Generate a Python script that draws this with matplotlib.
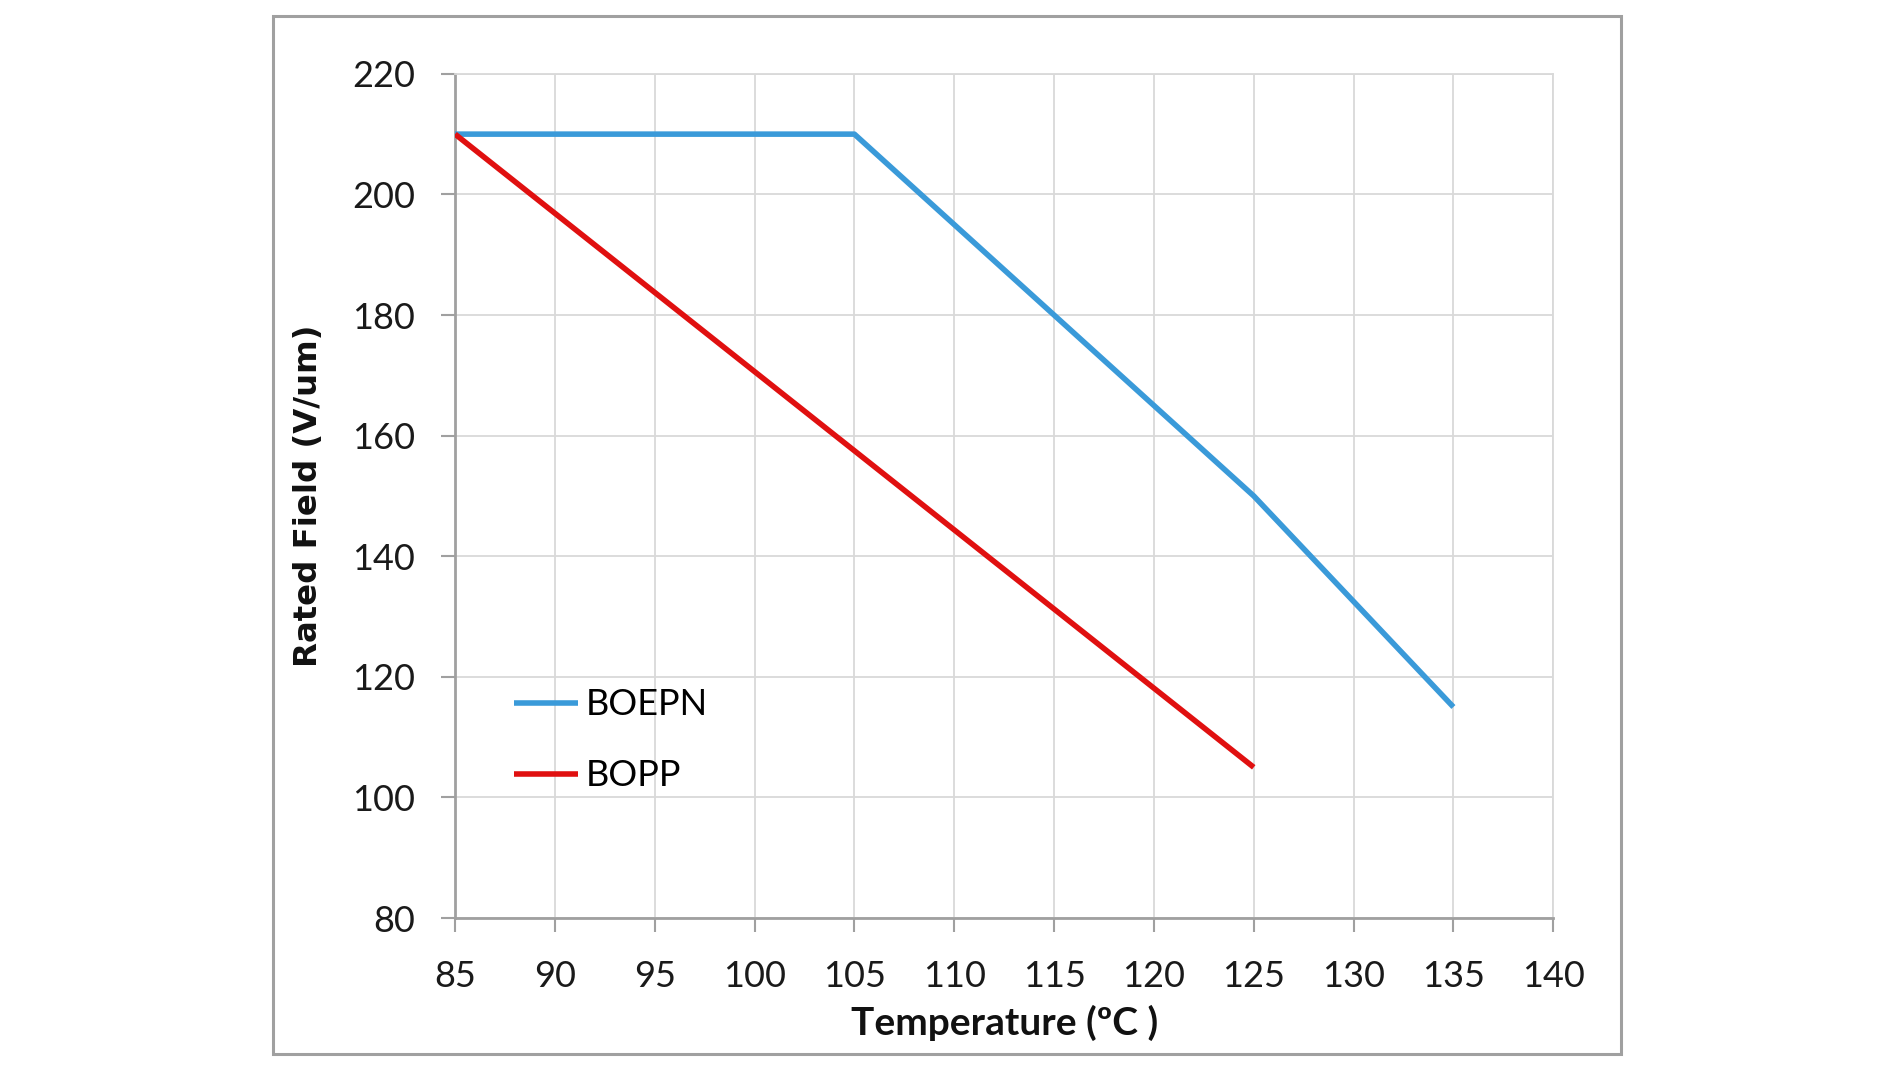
import matplotlib.pyplot as plt
from matplotlib.patches import Rectangle

temp_boepn = [85, 105, 125, 135]
field_boepn = [210, 210, 150, 115]
temp_bopp = [85, 105, 125]
field_bopp = [210, 157.5, 105]

x_ticks = [85, 90, 95, 100, 105, 110, 115, 120, 125, 130, 135, 140]
y_ticks = [80, 100, 120, 140, 160, 180, 200, 220]

plt.rcParams['font.family'] = ['Lato', 'DejaVu Sans']

fig = plt.figure(figsize=(19, 10.7), dpi=100)
fig.patches.append(Rectangle((0.1437, 0.015), 0.7095, 0.97, transform=fig.transFigure,
                             fill=False, edgecolor="#a0a0a0", linewidth=2.2))

ax = fig.add_axes([0.2395, 0.142, 0.578, 0.789])
ax.plot(temp_boepn, field_boepn, color="#3a9ad9", linewidth=4, label="BOEPN",
        solid_capstyle="butt", zorder=3)
ax.plot(temp_bopp, field_bopp, color="#e01010", linewidth=4, label="BOPP",
        solid_capstyle="butt", zorder=3)

ax.set_xlim(85, 140)
ax.set_ylim(80, 220)
ax.set_xticks(x_ticks)
ax.set_yticks(y_ticks)
ax.grid(True, color="#d9d9d9", linewidth=1.3)
ax.set_axisbelow(True)

for side in ["top", "right"]:
    ax.spines[side].set_color("#d9d9d9")
    ax.spines[side].set_linewidth(1.3)
for side in ["left", "bottom"]:
    ax.spines[side].set_color("#a0a0a0")
    ax.spines[side].set_linewidth(2)

ax.tick_params(axis="y", direction="out", length=10, width=1.5, color="#a0a0a0",
               labelsize=26, labelcolor="#1a1a1a", pad=19)
ax.tick_params(axis="x", direction="out", length=10, width=1.5, color="#a0a0a0",
               labelsize=26, labelcolor="#1a1a1a", pad=20)

ax.set_xlabel("Temperature (ºC )", fontsize=28, fontweight="bold", labelpad=9,
              color="#111111")
ax.set_ylabel("Rated Field (V/um)", fontsize=23.3, fontweight="bold", labelpad=20,
              family=["DejaVu Sans"], color="#111111")

ax.legend(loc="upper left", bbox_to_anchor=(0.054, 0.272), frameon=False,
          fontsize=26, handlelength=1.75, handletextpad=0.22, labelspacing=1.05,
          borderpad=0, borderaxespad=0)

fig.savefig("out.png", dpi=100, facecolor="white")
